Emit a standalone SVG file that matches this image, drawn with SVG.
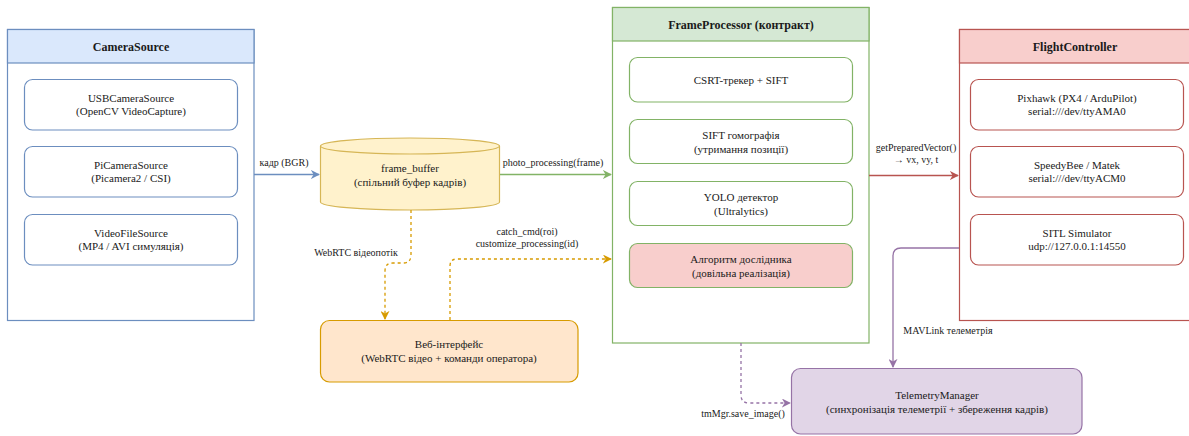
<svg xmlns="http://www.w3.org/2000/svg" width="1189" height="436" viewBox="0 0 1189 436">
  <style>
    text { font-family: "Liberation Serif", "Times New Roman", serif; font-size: 11px; fill: #1a1a1a; text-anchor: middle; }
    .title { font-weight: bold; font-size: 12px; }
    .lbl { font-size: 10px; }
    .inner { fill: #ffffff; stroke-width: 1.2; }
    .blue { stroke: #6c8ebf; }
    .green { stroke: #82b366; }
    .red { stroke: #b85450; }
    .conn { fill: none; stroke-width: 1.3; }
    .dash { stroke-dasharray: 3 3; }
  </style>
  <defs>
    <marker id="arBlue" viewBox="0 0 10 10" refX="9" refY="5" markerWidth="9" markerHeight="9" markerUnits="userSpaceOnUse" orient="auto">
      <path d="M0,0 L10,5 L0,10 L3,5 z" fill="#6c8ebf"/>
    </marker>
    <marker id="arGreen" viewBox="0 0 10 10" refX="9" refY="5" markerWidth="9" markerHeight="9" markerUnits="userSpaceOnUse" orient="auto">
      <path d="M0,0 L10,5 L0,10 L3,5 z" fill="#82b366"/>
    </marker>
    <marker id="arRed" viewBox="0 0 10 10" refX="9" refY="5" markerWidth="9" markerHeight="9" markerUnits="userSpaceOnUse" orient="auto">
      <path d="M0,0 L10,5 L0,10 L3,5 z" fill="#b85450"/>
    </marker>
    <marker id="arOrange" viewBox="0 0 10 10" refX="9" refY="5" markerWidth="9" markerHeight="9" markerUnits="userSpaceOnUse" orient="auto">
      <path d="M0,0 L10,5 L0,10 L3,5 z" fill="#d79b00"/>
    </marker>
    <marker id="arPurple" viewBox="0 0 10 10" refX="9" refY="5" markerWidth="9" markerHeight="9" markerUnits="userSpaceOnUse" orient="auto">
      <path d="M0,0 L10,5 L0,10 L3,5 z" fill="#9673a6"/>
    </marker>
  </defs>

  <!-- Camera sources container -->
  <g id="camera-source">
    <rect x="7.5" y="29.5" width="246.5" height="291" fill="#ffffff" stroke="#6c8ebf" stroke-width="1.2"/>
    <rect x="7.5" y="29.5" width="246.5" height="33.5" fill="#dae8fc" stroke="#6c8ebf" stroke-width="1.2"/>
    <text class="title" x="131" y="51">CameraSource</text>
    <rect class="inner blue" x="24.5" y="79.5" width="213" height="50.5" rx="8"/>
    <text x="131" y="102">USBCameraSource</text>
    <text x="131" y="115">(OpenCV VideoCapture)</text>
    <rect class="inner blue" x="24.5" y="146.5" width="213" height="50.5" rx="8"/>
    <text x="131" y="169">PiCameraSource</text>
    <text x="131" y="182">(Picamera2 / CSI)</text>
    <rect class="inner blue" x="24.5" y="214.5" width="213" height="50.5" rx="8"/>
    <text x="131" y="237">VideoFileSource</text>
    <text x="131" y="250">(MP4 / AVI симуляція)</text>
  </g>

  <!-- Shared frame buffer (cylinder) -->
  <g id="frame-buffer">
    <path d="M320.5,146 A89.5,8 0 0 1 499.5,146 V202 A89.5,8 0 0 1 320.5,202 Z" fill="#fff2cc" stroke="#d6b656" stroke-width="1.2"/>
    <path d="M320.5,146 A89.5,8 0 0 0 499.5,146" fill="none" stroke="#d6b656" stroke-width="1.2"/>
    <text x="410" y="172">frame_buffer</text>
    <text x="410" y="186">(спільний буфер кадрів)</text>
  </g>

  <!-- Web interface -->
  <g id="web-ui">
    <rect x="320.5" y="320.5" width="257.5" height="61.5" rx="9" fill="#ffe6cc" stroke="#d79b00" stroke-width="1.2"/>
    <text x="449" y="348">Веб-інтерфейс</text>
    <text x="449" y="362">(WebRTC відео + команди оператора)</text>
  </g>

  <!-- Frame processor contract container -->
  <g id="frame-processor">
    <rect x="612.5" y="7.5" width="256.5" height="335.5" fill="#ffffff" stroke="#82b366" stroke-width="1.2"/>
    <rect x="612.5" y="7.5" width="256.5" height="33.5" fill="#d5e8d4" stroke="#82b366" stroke-width="1.2"/>
    <text class="title" x="741" y="29">FrameProcessor (контракт)</text>
    <rect class="inner green" x="629.5" y="57.5" width="223" height="44.5" rx="8"/>
    <text x="741" y="84">CSRT-трекер + SIFT</text>
    <rect class="inner green" x="629.5" y="119.5" width="223" height="44" rx="8"/>
    <text x="741" y="139">SIFT гомографія</text>
    <text x="741" y="153">(утримання позиції)</text>
    <rect class="inner green" x="629.5" y="181.5" width="223" height="44" rx="8"/>
    <text x="741" y="201">YOLO детектор</text>
    <text x="741" y="215">(Ultralytics)</text>
    <rect x="629.5" y="243.5" width="223" height="44" rx="8" fill="#f8cecc" stroke="#82b366" stroke-width="1.2"/>
    <text x="741" y="263">Алгоритм дослідника</text>
    <text x="741" y="277">(довільна реалізація)</text>
  </g>

  <!-- Flight controller container -->
  <g id="flight-controller">
    <rect x="959.5" y="29.5" width="232" height="291" fill="#ffffff" stroke="#b85450" stroke-width="1.2"/>
    <rect x="959.5" y="29.5" width="232" height="33.5" fill="#f8cecc" stroke="#b85450" stroke-width="1.2"/>
    <text class="title" x="1075" y="51">FlightController</text>
    <rect class="inner red" x="970.5" y="79.5" width="213" height="50.5" rx="8"/>
    <text x="1077" y="102">Pixhawk (PX4 / ArduPilot)</text>
    <text x="1077" y="115">serial:///dev/ttyAMA0</text>
    <rect class="inner red" x="970.5" y="146.5" width="213" height="50.5" rx="8"/>
    <text x="1077" y="169">SpeedyBee / Matek</text>
    <text x="1077" y="182">serial:///dev/ttyACM0</text>
    <rect class="inner red" x="970.5" y="214.5" width="213" height="50.5" rx="8"/>
    <text x="1077" y="237">SITL Simulator</text>
    <text x="1077" y="250">udp://127.0.0.1:14550</text>
  </g>

  <!-- Telemetry manager -->
  <g id="telemetry-manager">
    <rect x="791.5" y="368.5" width="290.5" height="65.5" rx="9" fill="#e1d5e7" stroke="#9673a6" stroke-width="1.2"/>
    <text x="937" y="399">TelemetryManager</text>
    <text x="937" y="413">(синхронізація телеметрії + збереження кадрів)</text>
  </g>

  <!-- Connectors -->
  <g id="connectors">
    <path class="conn" d="M254,174.5 H319" stroke="#6c8ebf" marker-end="url(#arBlue)"/>
    <text class="lbl" x="284" y="166">кадр (BGR)</text>

    <path class="conn" d="M500,174.5 H611" stroke="#82b366" marker-end="url(#arGreen)"/>
    <text class="lbl" x="553" y="166">photo_processing(frame)</text>

    <path class="conn dash" d="M411,210 V255 Q411,263 403,263 H393 Q385,263 385,271 V319" stroke="#d79b00" marker-end="url(#arOrange)"/>
    <text class="lbl" x="356" y="256">WebRTC відеопотік</text>

    <path class="conn dash" d="M450,320 V266 Q450,259 457,259 H611" stroke="#d79b00" marker-end="url(#arOrange)"/>
    <text class="lbl" x="527" y="235">catch_cmd(roi)</text>
    <text class="lbl" x="527" y="247">customize_processing(id)</text>

    <path class="conn" d="M869,175.5 H958" stroke="#b85450" marker-end="url(#arRed)"/>
    <text class="lbl" x="916" y="151">getPreparedVector()</text>
    <text class="lbl" x="916" y="163">→ vx, vy, t</text>

    <path class="conn" d="M959,248 H901 Q893,248 893,256 V367" stroke="#9673a6" marker-end="url(#arPurple)"/>
    <text class="lbl" x="948" y="334">MAVLink телеметрія</text>

    <path class="conn dash" d="M741,343 V395 Q741,403 749,403 H790" stroke="#9673a6" marker-end="url(#arPurple)"/>
    <text class="lbl" x="743" y="417">tmMgr.save_image()</text>
  </g>
</svg>
